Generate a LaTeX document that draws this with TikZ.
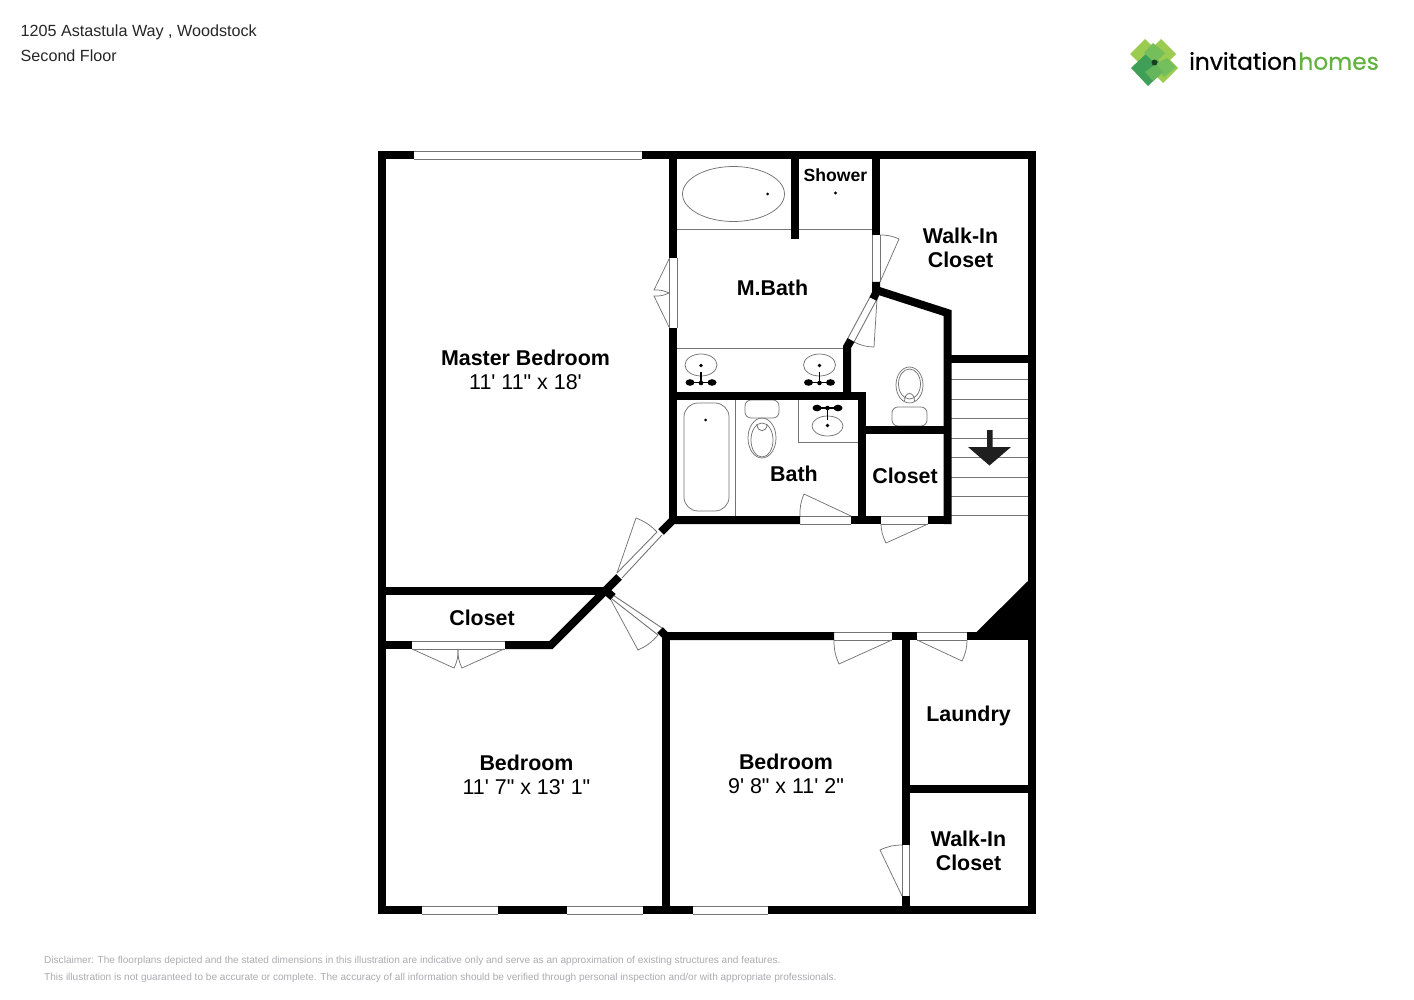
\documentclass[tikz,border=0pt]{standalone}
\usepackage{fontspec}
\setmainfont{Liberation Sans}[Ligatures=TeXOff]
\newfontfamily\logofont{Poppins}[FakeBold=0.5]
\definecolor{thingrey}{HTML}{747474}
\definecolor{lightleaf}{HTML}{9CCB52}
\definecolor{midleaf}{HTML}{74BE5C}
\definecolor{darkleaf}{HTML}{3F9F58}
\definecolor{logogreen}{HTML}{62B33F}
\definecolor{smallprint}{HTML}{ABABB0}
\tikzset{
	wall/.style={line width=8pt,black,line join=miter},
	gapline/.style={line width=0.9pt,thingrey},
	fixture/.style={line width=0.75pt,thingrey},
	roomlabel/.style={align=center,inner sep=0pt,font=\fontsize{21.4}{24}\selectfont},
	boldlabel/.style={roomlabel,font=\fontsize{21.4}{24}\bfseries\selectfont},
	headtext/.style={anchor=west,inner sep=0pt,font=\fontsize{16.15}{18}\selectfont,text=black!85},
	printtext/.style={anchor=west,inner sep=0pt,font=\fontsize{10.07}{12}\selectfont,text=smallprint},
}
\begin{document}
\begin{tikzpicture}[x=1pt,y=-1pt]
			\useasboundingbox (0,0) rectangle (1414,1000);
			%bath fixtures
			\draw[fixture] (677,229) -- (872,229); %tub edge
			\draw[fixture] (733.5,194) ellipse (51 and 27.5);
			\fill (767.5,194) circle (1.5);
			\fill (835.5,193) circle (1.7);
			\draw[fixture] (677,348.5) -- (843,348.5);
			\foreach \sinkx in {701,819.5}{
				\draw[fixture] (\sinkx,365) ellipse (16 and 11);
				\fill (\sinkx,365.5) circle (1.8);
				\draw[line width=1.3pt] (\sinkx,372) -- (\sinkx,385);
				\draw[line width=1.3pt] (\sinkx-11,382.5) -- (\sinkx+11,382.5);
				\fill (\sinkx-11,382.5) ellipse (4.5 and 3.3);
				\fill (\sinkx+11,382.5) ellipse (4.5 and 3.3);
				\fill (\sinkx,383) circle (2.3);
			}
			\draw[fixture,rounded corners=14pt] (684,403) rectangle (729,511);
			\fill (705.5,420) circle (1.5);
			\draw[fixture] (735,400) -- (735,516);
			\draw[fixture,rounded corners=6pt] (745,400) rectangle (779,418);
			\draw[fixture] (762,438) ellipse (14 and 20);
			\draw[fixture] (762,440) ellipse (11 and 17);
			\draw[fixture] (757,424) .. controls (757,433) and (767,433) .. (767,424);
			\draw[fixture] (798,400) -- (798,442) -- (858,442);
			\draw[fixture] (827.5,426) ellipse (15.5 and 10);
			\fill (827.5,425.5) circle (1.8);
			\draw[line width=1.3pt] (827.5,407) -- (827.5,420);
			\draw[line width=1.3pt] (817,408) -- (838,408);
			\fill (817,408) ellipse (4.5 and 3.3);
			\fill (838,408) ellipse (4.5 and 3.3);
			\fill (827.5,408) circle (2.3);
			\draw[fixture] (909.5,385) ellipse (13.5 and 18);
			\draw[fixture] (909.5,384) ellipse (11 and 15);
			\draw[fixture] (904.5,401) .. controls (904.5,391) and (914.5,391) .. (914.5,401);
			\draw[fixture,rounded corners=6pt] (892,426) -- (892,407) -- (927,407) -- (927,426) -- cycle;
			%stairs
			\foreach \stepy in {379,399,418,438,457,477,496,515.5}{
				\draw[fixture] (951,\stepy) -- (1028,\stepy);
			}
			\fill[black!88] (987,430) -- (992.5,430) -- (992.5,447) -- (1011,447) -- (989.5,465.5) -- (968,447) -- (987,447) -- cycle;
			%door swings
			\draw[fixture] (669,259) -- (654,290) to[bend left=14] (669,293);
			\draw[fixture] (669,327) -- (654,296) to[bend right=14] (669,293);
			\draw[fixture] (880,282) -- (899,239) to[bend right=12] (880,235);
			\draw[fixture] (877,299) -- (874,347) to[bend left=12] (854,342);
			\draw[fixture] (851,516) -- (804,494) to[bend right=12] (800,516);
			\draw[fixture] (928,524) -- (886,543) to[bend left=12] (881,524);
			\draw[fixture] (617,573) -- (636,518) to[bend left=12] (657,532);
			\draw[fixture] (611,600) -- (638,650) to[bend right=12] (658,635);
			\draw[fixture] (412,649) -- (454,668) to[bend right=14] (458,649);
			\draw[fixture] (504,649) -- (462,668) to[bend left=14] (458,649);
			\draw[fixture] (892,640) -- (839,664) to[bend left=12] (834,640);
			\draw[fixture] (917,640) -- (962,661) to[bend right=12] (967,640);
			\draw[fixture] (902,896) -- (880,850) to[bend left=12] (902,845);
			%door and window openings
			\foreach \gx/\gy/\gw in {414/151/642,414/159/642,422/906/498,422/914/498,567/906/643,567/914/643,693/906/768,693/914/768,
				412/641/505,412/649/505,800/516/851,800/524/851,881/516/928,881/524/928,834/632/892,834/640/892,917/632/967,917/640/967}{
				\draw[gapline] (\gx,\gy) -- (\gw,\gy);
			}
			\foreach \gx/\gy/\gh in {669/258/328,677/258/328,872/235/282,880/235/282,902/845/896,909/845/896}{
				\draw[gapline] (\gx,\gy) -- (\gx,\gh);
			}
			\draw[gapline] (617,573) -- (657,532);
			\draw[gapline] (622,578) -- (662,535);
			\draw[gapline] (610,593) -- (662,628);
			\draw[gapline] (612,599) -- (658,635);
			\draw[gapline] (870,297) -- (848,338);
			\draw[gapline] (877,299) -- (854,342);
			%walls
			\draw[wall] (414,155) -- (382,155) -- (382,910) -- (422,910);
			\draw[wall] (498,910) -- (567,910);
			\draw[wall] (643,910) -- (693,910);
			\draw[wall] (768,910) -- (1031.5,910) -- (1031.5,155) -- (642,155);
			\draw[wall] (673,155) -- (673,258);
			\draw[wall] (794.5,155) -- (794.5,239);
			\draw[wall] (876,155) -- (876,235);
			\draw[wall] (873,299) -- (876,293) -- (876,282);
			\draw[wall] (876,290) -- (947.5,313) -- (947.5,524);
			\draw[wall] (851,340) -- (847,347) -- (847,396);
			\draw[wall] (673,328) -- (673,524);
			\draw[wall] (661,532) -- (673,520) -- (800,520);
			\draw[wall] (851,520) -- (881,520);
			\draw[wall] (928,520) -- (951,520);
			\draw[wall] (669,395.5) -- (866,395.5);
			\draw[wall] (862,392) -- (862,524);
			\draw[wall] (862,430) -- (947.5,430);
			\draw[wall] (947.5,359.5) -- (1031.5,359.5);
			\draw[wall] (382,591) -- (607,591);
			\draw[wall] (382,645) -- (412,645);
			\draw[wall] (505,645) -- (551,645) -- (619,577);
			\draw[wall] (605,590) -- (613,597);
			\draw[wall] (660,630) -- (666,636) -- (834,636);
			\draw[wall] (666,632) -- (666,910);
			\draw[wall] (892,636) -- (917,636);
			\draw[wall] (967,636) -- (1031.5,636);
			\draw[wall] (905.5,636) -- (905.5,845);
			\draw[wall] (905.5,896) -- (905.5,910);
			\draw[wall] (905.5,789) -- (1031.5,789);
			\fill (976,632.5) -- (1028,581) -- (1028,636) -- (972,636) -- cycle;
			%room names
			\node[roomlabel] (masterbed) at (525.5,370) {\textbf{Master Bedroom}\\11' 11" x 18'};
			\node[roomlabel] (bedroomleft) at (526.5,775) {\textbf{Bedroom}\\11' 7" x 13' 1"};
			\node[roomlabel] (bedroomright) at (786,774) {\textbf{Bedroom}\\9' 8" x 11' 2"};
			\node[boldlabel] (mbath) at (772.5,288) {M.Bath};
			\node[boldlabel,font=\fontsize{17.6}{20}\bfseries\selectfont] (shower) at (835.5,175.5) {Shower};
			\node[boldlabel] (walkinupper) at (960.5,248) {Walk-In\\Closet};
			\node[boldlabel] (walkinlower) at (968.5,851) {Walk-In\\Closet};
			\node[boldlabel] (bath) at (794,474) {Bath};
			\node[boldlabel] (closetmid) at (905,476) {Closet};
			\node[boldlabel] (closetlow) at (482,618) {Closet};
			\node[boldlabel] (laundry) at (968.5,716) {Laundry};
			%header and small print
			\node[headtext] (address) at (20.5,32) {1205 Astastula Way , Woodstock};
			\node[headtext] (floorname) at (20.5,55.5) {Second Floor};
			\node[printtext] (printone) at (44,961) {Disclaimer: The floorplans depicted and the stated dimensions in this illustration are indicative only and serve as an approximation of existing structures and features.};
			\node[printtext] (printtwo) at (44,977.5) {This illustration is not guaranteed to be accurate or complete. The accuracy of all information should be verified through personal inspection and/or with appropriate professionals.};
			%logo
			\fill[lightleaf] (1145,39) -- (1160,54) -- (1145,69) -- (1130,54) -- cycle;
			\fill[lightleaf] (1161,39) -- (1176,54) -- (1161,69) -- (1146,54) -- cycle;
			\fill[lightleaf] (1163,53) -- (1178,68) -- (1163,83) -- (1148,68) -- cycle;
			\fill[darkleaf] (1149,51) -- (1166,69) -- (1148,86) -- (1131,68) -- cycle;
			\fill[midleaf] (1153,43) -- (1165,53) -- (1155,63) -- (1144,53) -- cycle;
			\fill[midleaf] (1167,58) -- (1176,67) -- (1164,77) -- (1155,64) -- cycle;
			\fill[midleaf!70!darkleaf] (1156,64) -- (1163,72) -- (1153,81) -- (1145,72) -- cycle;
			\fill[black!60!darkleaf] (1154.5,62.5) circle (3);
			\node[anchor=west,inner sep=0pt,font=\logofont\fontsize{23.3}{26}\selectfont] (logotext) at (1189,61) {invitation\kern1.5pt\textcolor{logogreen}{homes}};
		\end{tikzpicture}
\end{document}
